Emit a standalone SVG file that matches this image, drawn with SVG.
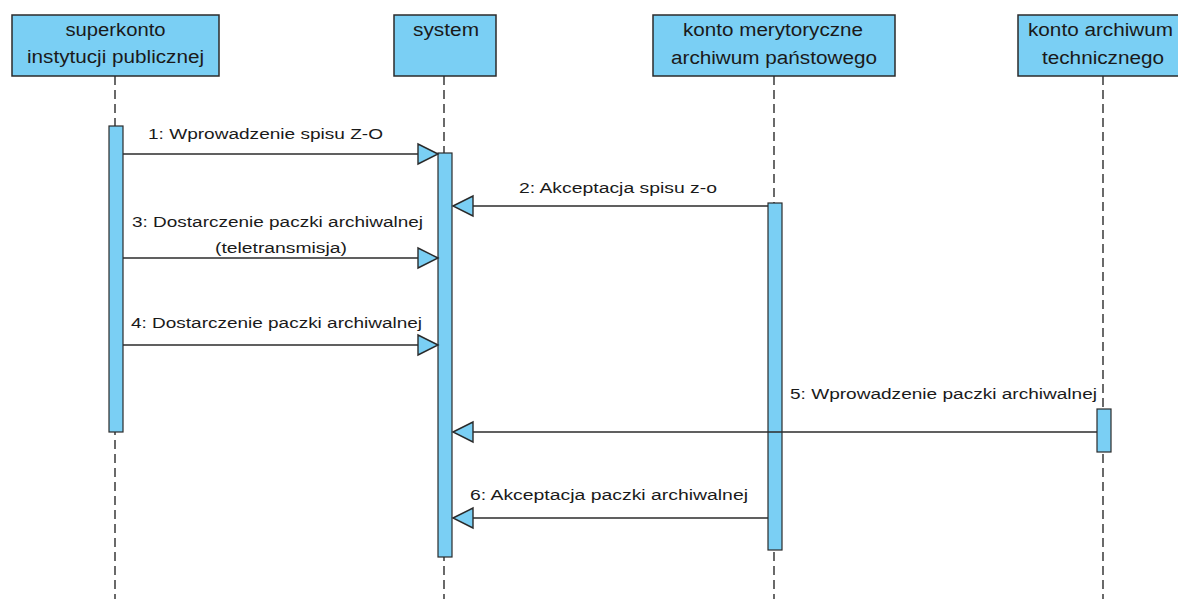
<svg xmlns="http://www.w3.org/2000/svg" width="1178" height="599" viewBox="0 0 1178 599">
<style>
.box{fill:#7ACFF4;stroke:#2b2b2b;stroke-width:1.5}
.bar{fill:#7ACFF4;stroke:#2b2b2b;stroke-width:1.2}
.life{stroke:#2b2b2b;stroke-width:1.4;stroke-dasharray:9,5;fill:none}
.msg{stroke:#2b2b2b;stroke-width:1.4;fill:none}
.head{fill:#7ACFF4;stroke:#2b2b2b;stroke-width:1.4;stroke-linejoin:miter}
.t{font-family:"Liberation Sans",Arial,sans-serif;font-size:18px;fill:#1a1a1a;text-anchor:middle}
.l{font-family:"Liberation Sans",Arial,sans-serif;font-size:15.5px;fill:#1a1a1a}
</style>
<rect width="1178" height="599" fill="#fff"/>
<g id="lifelines">
<line class="life" x1="115" y1="76" x2="115" y2="599"/>
<line class="life" x1="444" y1="76" x2="444" y2="599"/>
<line class="life" x1="774" y1="76" x2="774" y2="599"/>
<line class="life" x1="1103" y1="76" x2="1103" y2="599"/>
</g>
<g id="node-superkonto">
<rect class="box" x="12" y="15" width="207" height="61"/>
<text class="t" x="115.5" y="36" textLength="100" lengthAdjust="spacingAndGlyphs">superkonto</text>
<text class="t" x="115.5" y="63" textLength="177" lengthAdjust="spacingAndGlyphs">instytucji publicznej</text>
<rect class="bar" x="109" y="126" width="14" height="306"/>
</g>
<g id="node-system">
<rect class="box" x="394" y="15" width="102" height="61"/>
<text class="t" x="446" y="36" textLength="66" lengthAdjust="spacingAndGlyphs">system</text>
<rect class="bar" x="438" y="153" width="14" height="404"/>
</g>
<g id="node-konto-merytoryczne">
<rect class="box" x="653" y="15" width="242" height="61"/>
<text class="t" x="773" y="36" textLength="180" lengthAdjust="spacingAndGlyphs">konto merytoryczne</text>
<text class="t" x="774" y="64" textLength="206" lengthAdjust="spacingAndGlyphs">archiwum państowego</text>
<rect class="bar" x="768" y="203" width="14" height="347"/>
</g>
<g id="node-konto-archiwum">
<rect class="box" x="1018" y="15" width="172" height="61"/>
<text class="t" x="1100.5" y="36" textLength="145" lengthAdjust="spacingAndGlyphs">konto archiwum</text>
<text class="t" x="1103" y="64" textLength="122" lengthAdjust="spacingAndGlyphs">technicznego</text>
<rect class="bar" x="1097" y="409" width="14" height="43"/>
</g>
<g id="connectors">
<line class="msg" x1="123" y1="154" x2="418" y2="154"/>
<polygon class="head" points="438,154 418,144 418,164"/>
<text class="l" x="148" y="139" textLength="235" lengthAdjust="spacingAndGlyphs">1: Wprowadzenie spisu Z-O</text>

<line class="msg" x1="768" y1="206" x2="473" y2="206"/>
<polygon class="head" points="453,206 473,196 473,216"/>
<text class="l" x="519" y="193" textLength="198" lengthAdjust="spacingAndGlyphs">2: Akceptacja spisu z-o</text>

<line class="msg" x1="123" y1="258" x2="418" y2="258"/>
<polygon class="head" points="438,258 418,248 418,268"/>
<text class="l" x="132" y="227" textLength="291" lengthAdjust="spacingAndGlyphs">3: Dostarczenie paczki archiwalnej</text>
<text class="l" x="215" y="253" textLength="132" lengthAdjust="spacingAndGlyphs">(teletransmisja)</text>

<line class="msg" x1="123" y1="345" x2="418" y2="345"/>
<polygon class="head" points="438,345 418,335 418,355"/>
<text class="l" x="131" y="328" textLength="291" lengthAdjust="spacingAndGlyphs">4: Dostarczenie paczki archiwalnej</text>

<line class="msg" x1="1097" y1="432" x2="473" y2="432"/>
<polygon class="head" points="453,432 473,422 473,442"/>
<text class="l" x="790" y="399" textLength="307" lengthAdjust="spacingAndGlyphs">5: Wprowadzenie paczki archiwalnej</text>

<line class="msg" x1="768" y1="518" x2="473" y2="518"/>
<polygon class="head" points="453,518 473,508 473,528"/>
<text class="l" x="470" y="500" textLength="278" lengthAdjust="spacingAndGlyphs">6: Akceptacja paczki archiwalnej</text>
</g>
</svg>
